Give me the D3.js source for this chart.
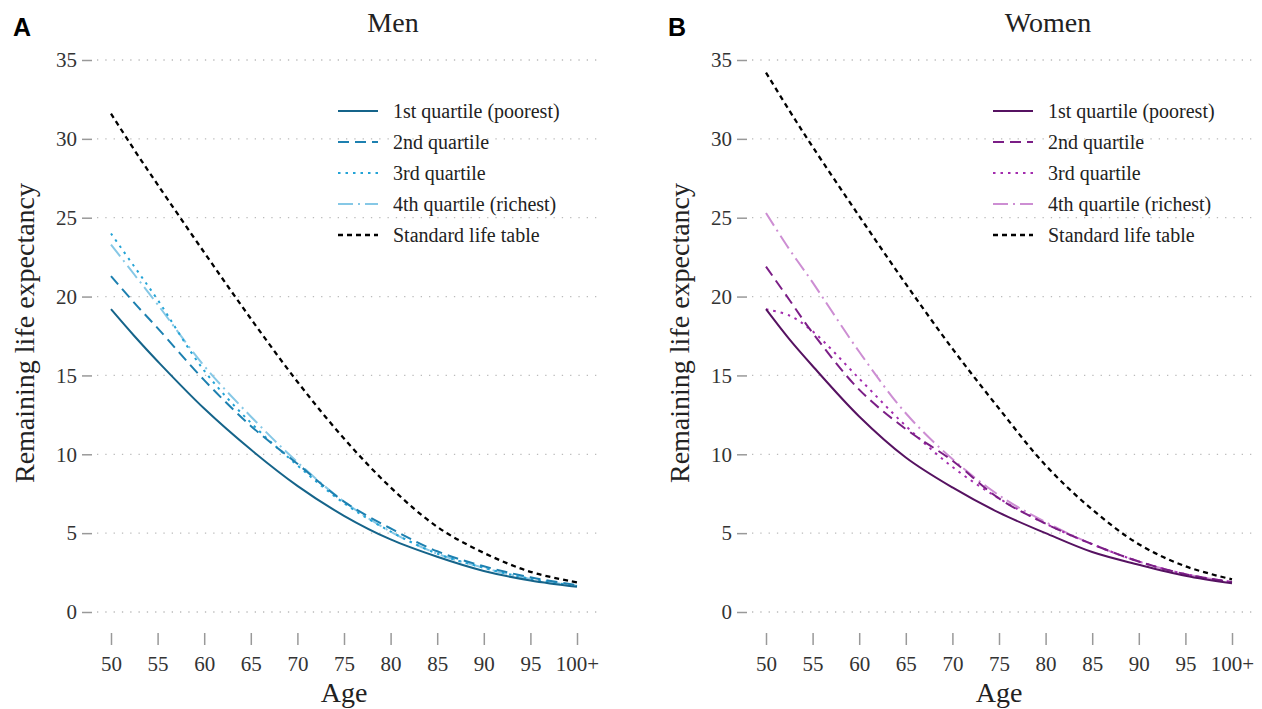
<!DOCTYPE html>
<html>
<head>
<meta charset="utf-8">
<script src="https://cdn.jsdelivr.net/npm/d3@7"></script>
<style>
  body { margin: 0; background: #fff; }
  text { font-family: "Liberation Serif", "Times New Roman", serif; fill: #222; }
  .tick text { font-size: 21px; fill: #333; }
  .tick line { stroke: #999; stroke-width: 1.5; }
  .panel-letter { font-family: "Liberation Sans", Arial, sans-serif; font-weight: bold; font-size: 25px; fill: #000; }
</style>
</head>
<body>
<div id="chart"></div>
<script>
const width = 1262, height = 709;

const ages = [50, 52.5, 55, 60, 65, 70, 75, 80, 85, 90, 95, 100];
const tickAges = [50, 55, 60, 65, 70, 75, 80, 85, 90, 95, 100];
const yTicks = [0, 5, 10, 15, 20, 25, 30, 35];

const seriesNames = ["1st quartile (poorest)", "2nd quartile", "3rd quartile", "4th quartile (richest)", "Standard life table"];

// Men
const menQ1  = [19.2, 17.5, 15.9, 12.9, 10.3, 8.0, 6.1, 4.6, 3.5, 2.6, 2.0, 1.6];
const menQ2  = [21.3, 19.6, 18.0, 14.7, 11.8, 9.4, 7.0, 5.3, 3.85, 2.9, 2.2, 1.7];
const menQ3  = [24.0, 21.9, 19.8, 15.3, 12.0, 9.3, 6.9, 5.1, 3.7, 2.8, 2.1, 1.65];
const menQ4  = [23.3, 21.4, 19.5, 15.6, 12.4, 9.5, 7.0, 5.1, 3.7, 2.8, 2.1, 1.65];
const menStd = [31.6, 29.3, 27.1, 22.8, 18.6, 14.6, 11.0, 7.9, 5.4, 3.75, 2.55, 1.88];

// Women
const womenQ1  = [19.2, 17.3, 15.6, 12.4, 9.8, 7.9, 6.3, 5.0, 3.8, 3.0, 2.3, 1.82];
const womenQ2  = [21.9, 19.8, 17.7, 14.1, 11.6, 9.6, 7.2, 5.6, 4.3, 3.2, 2.4, 1.9];
const womenQ3  = [19.2, 18.8, 17.8, 14.8, 11.8, 9.2, 7.2, 5.6, 4.3, 3.2, 2.4, 1.9];
const womenQ4  = [25.3, 23.0, 20.9, 16.5, 12.6, 9.7, 7.4, 5.7, 4.3, 3.2, 2.4, 1.9];
const womenStd = [34.2, 31.8, 29.5, 25.1, 20.8, 16.7, 12.9, 9.3, 6.5, 4.3, 2.9, 2.07];

const menColors   = ["#15648a", "#1d80b0", "#23a3d6", "#86c8e6", "#000000"];
const womenColors = ["#561261", "#7b1e86", "#a32cae", "#cd8ed3", "#000000"];
const dashes = [null, "11,6", "2.5,5", "15,5,2,5", "5,4"];

const panels = [
  { letter: "A", title: "Men", left: 0, series: [menQ1, menQ2, menQ3, menQ4, menStd], colors: menColors },
  { letter: "B", title: "Women", left: 655, series: [womenQ1, womenQ2, womenQ3, womenQ4, womenStd], colors: womenColors }
];

const svg = d3.select("#chart").append("svg").attr("width", width).attr("height", height);

panels.forEach(p => {
  const g = svg.append("g").attr("transform", `translate(${p.left},0)`);

  const x = d3.scaleLinear().domain([50, 100]).range([111, 577]);
  const y = d3.scaleLinear().domain([0, 35]).range([612, 60]);

  // dotted gridlines
  g.append("g").selectAll("line")
    .data(yTicks).enter().append("line")
    .attr("x1", 97).attr("x2", 597)
    .attr("y1", d => y(d)).attr("y2", d => y(d))
    .attr("stroke", "#bbb").attr("stroke-width", 1.3)
    .attr("stroke-dasharray", "1.3,7");

  const yAxis = d3.axisLeft(y).tickValues(yTicks).tickSize(10).tickPadding(5).tickFormat(d3.format("d"));
  g.append("g").attr("transform", "translate(92,0)").call(yAxis)
    .call(a => a.select(".domain").remove());

  const xAxis = d3.axisBottom(x).tickValues(tickAges).tickSize(12).tickPadding(11)
    .tickFormat(d => d === 100 ? "100+" : d);
  g.append("g").attr("transform", "translate(0,633)").call(xAxis)
    .call(a => a.select(".domain").remove());

  g.selectAll(".tick text").attr("font-family", null).attr("font-size", null);

  // axis labels
  g.append("text")
    .attr("text-anchor", "middle")
    .attr("x", (111 + 577) / 2).attr("y", 702)
    .attr("font-size", 28)
    .text("Age");

  g.append("text")
    .attr("text-anchor", "middle")
    .attr("transform", `translate(34,333) rotate(-90)`)
    .attr("font-size", 28)
    .text("Remaining life expectancy");

  g.append("text")
    .attr("text-anchor", "middle")
    .attr("x", (111 + 577) / 2 + 49).attr("y", 32)
    .attr("font-size", 28)
    .text(p.title);

  g.append("text").attr("class", "panel-letter")
    .attr("x", 13).attr("y", 36)
    .text(p.letter);

  const line = d3.line()
    .x((d, i) => x(ages[i]))
    .y(d => y(d))
    .curve(d3.curveCatmullRom.alpha(0.5));

  // standard table first, then quartiles reversed so Q1 ends on top
  [4, 3, 2, 1, 0].forEach(k => {
    g.append("path")
      .datum(p.series[k])
      .attr("d", line)
      .attr("fill", "none")
      .attr("stroke", p.colors[k])
      .attr("stroke-width", k === 4 ? 2.3 : 2)
      .attr("stroke-dasharray", dashes[k]);
  });

  // legend
  const leg = g.append("g").attr("transform", "translate(338,111)");
  const rows = leg.selectAll("g").data(seriesNames).enter().append("g")
    .attr("transform", (d, i) => `translate(0,${i * 31})`);
  rows.append("line")
    .attr("x1", 0).attr("x2", 40).attr("y1", 0).attr("y2", 0)
    .attr("stroke", (d, i) => p.colors[i])
    .attr("stroke-width", (d, i) => i === 4 ? 2.3 : 2)
    .attr("stroke-dasharray", (d, i) => dashes[i]);
  rows.append("text")
    .attr("x", 55).attr("y", 7)
    .attr("font-size", 20)
    .text(d => d);
});
</script>
</body>
</html>
